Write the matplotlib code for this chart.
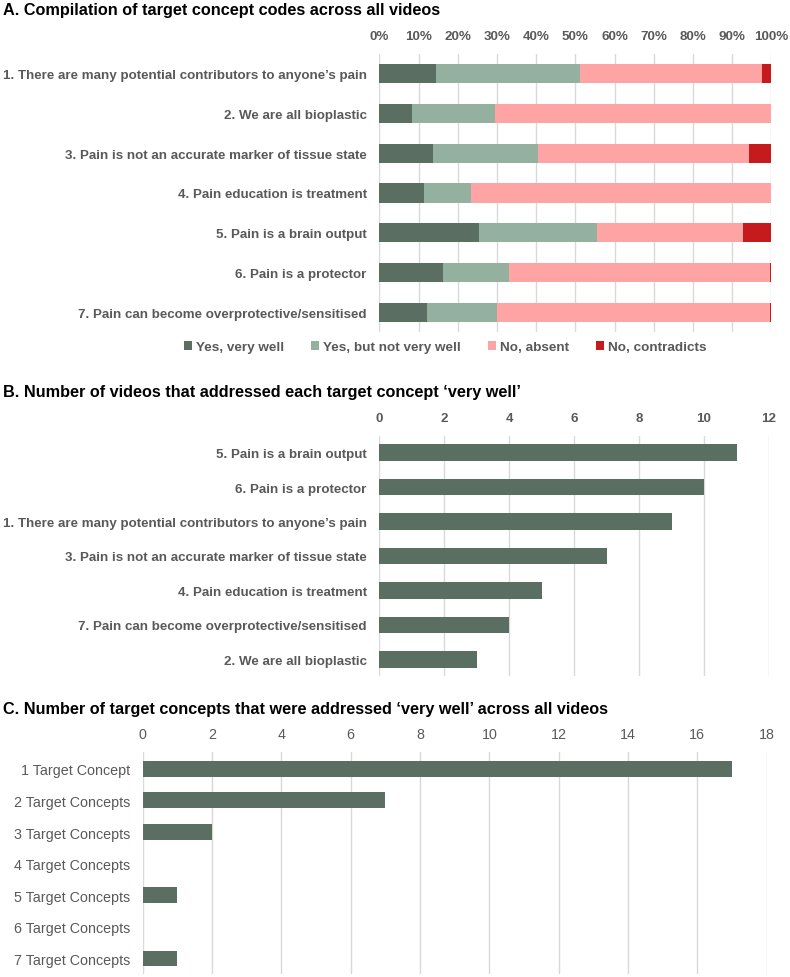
import matplotlib
matplotlib.use("Agg")
import matplotlib.pyplot as plt
import numpy as np

plt.rcParams['font.family'] = ['Liberation Sans', 'DejaVu Sans']

# ---- data ----
concepts = [
    "1. There are many potential contributors to anyone\u2019s pain",
    "2. We are all bioplastic",
    "3. Pain is not an accurate marker of tissue state",
    "4. Pain education is treatment",
    "5. Pain is a brain output",
    "6. Pain is a protector",
    "7. Pain can become overprotective/sensitised",
]
yes_well = [14.4, 8.3, 13.6, 11.3, 25.4, 16.2, 12.2]
yes_not_well = [36.9, 21.3, 27.0, 12.2, 30.1, 16.8, 17.7]
no_absent = [46.4, 70.4, 53.7, 76.5, 37.2, 66.7, 69.8]
no_contra = [2.3, 0.0, 5.7, 0.0, 7.3, 0.3, 0.3]
series_names = ["Yes, very well", "Yes, but not very well", "No, absent", "No, contradicts"]

b_labels = [
    "5. Pain is a brain output",
    "6. Pain is a protector",
    "1. There are many potential contributors to anyone\u2019s pain",
    "3. Pain is not an accurate marker of tissue state",
    "4. Pain education is treatment",
    "7. Pain can become overprotective/sensitised",
    "2. We are all bioplastic",
]
b_counts = [11, 10, 9, 7, 5, 4, 3]

c_labels = ["1 Target Concept", "2 Target Concepts", "3 Target Concepts", "4 Target Concepts",
            "5 Target Concepts", "6 Target Concepts", "7 Target Concepts"]
c_counts = [17, 7, 2, 0, 1, 0, 1]

dark = "#5a6f62"
light = "#94b1a0"
pink = "#fea4a5"
red = "#c51b1c"
grey = "#595959"
gridc = "#d9d9d9"

W, H = 790, 978
fig = plt.figure(figsize=(W / 100, H / 100), dpi=100)


def px_axes(x0, x1, y0, y1):
    return fig.add_axes([x0 / W, 1 - y1 / H, (x1 - x0) / W, (y1 - y0) / H])


def style(ax, xmax, step, pad, lblpad, fmt=None, bold=True, size=9.6):
    for s in ax.spines.values():
        s.set_visible(False)
    ax.xaxis.tick_top()
    ticks = np.arange(0, xmax + 0.001, step)
    ax.set_xticks(ticks)
    if fmt:
        ax.set_xticklabels([fmt.format(t) for t in ticks])
    ax.set_xlim(0, xmax)
    ax.tick_params(axis='x', length=0, pad=pad, colors=grey, labelsize=size)
    ax.tick_params(axis='y', length=0, pad=lblpad, colors=grey, labelsize=size)
    for t in ax.get_xticklabels() + ax.get_yticklabels():
        t.set_fontweight('bold' if bold else 'normal')
    ax.grid(axis='x', color=gridc, lw=1)
    ax.set_axisbelow(True)


# ---- panel A ----
axA = px_axes(379.3, 771.3, 55, 333)
y = np.arange(len(concepts))
left = np.zeros(len(concepts))
for vals, col, name in zip([yes_well, yes_not_well, no_absent, no_contra],
                           [dark, light, pink, red], series_names):
    axA.barh(y, vals, left=left, height=0.48, color=col, label=name)
    left += np.array(vals)
axA.set_yticks(y)
axA.set_yticklabels(concepts)
axA.set_ylim(6.49, -0.49)
style(axA, 100, 10, 8.5, 9, fmt="{:.0f}%")
leg = fig.legend(loc='center', bbox_to_anchor=(445 / W, 1 - 348 / H), ncol=4, frameon=False,
                 handlelength=0.6, handleheight=0.6, handletextpad=0.3, columnspacing=2.0,
                 prop={'size': 9.7, 'weight': 'bold'})
for t in leg.get_texts():
    t.set_color(grey)
fig.text(3 / W, 1 - 10 / H, "A. Compilation of target concept codes across all videos",
         fontsize=11.7, fontweight='bold', va='center', ha='left')

# ---- panel B ----
axB = px_axes(379.3, 769, 437, 677)
yb = np.arange(len(b_labels))
axB.barh(yb, b_counts, height=0.47, color=dark)
axB.set_yticks(yb)
axB.set_yticklabels(b_labels)
axB.set_ylim(6.48, -0.48)
style(axB, 12, 2, 8.5, 9)
fig.text(3 / W, 1 - 393 / H, "B. Number of videos that addressed each target concept \u2018very well\u2019",
         fontsize=11.7, fontweight='bold', va='center', ha='left')

# ---- panel C ----
axC = px_axes(142.7, 766.7, 753, 975)
yc = np.arange(len(c_labels))
axC.barh(yc, c_counts, height=0.5, color=dark)
axC.set_yticks(yc)
axC.set_yticklabels(c_labels)
axC.set_ylim(6.49, -0.53)
style(axC, 18, 2, 8, 9, bold=False, size=10.3)
fig.text(3 / W, 1 - 710 / H, "C. Number of target concepts that were addressed \u2018very well\u2019 across all videos",
         fontsize=11.7, fontweight='bold', va='center', ha='left')

fig.savefig("out.png", dpi=100)
